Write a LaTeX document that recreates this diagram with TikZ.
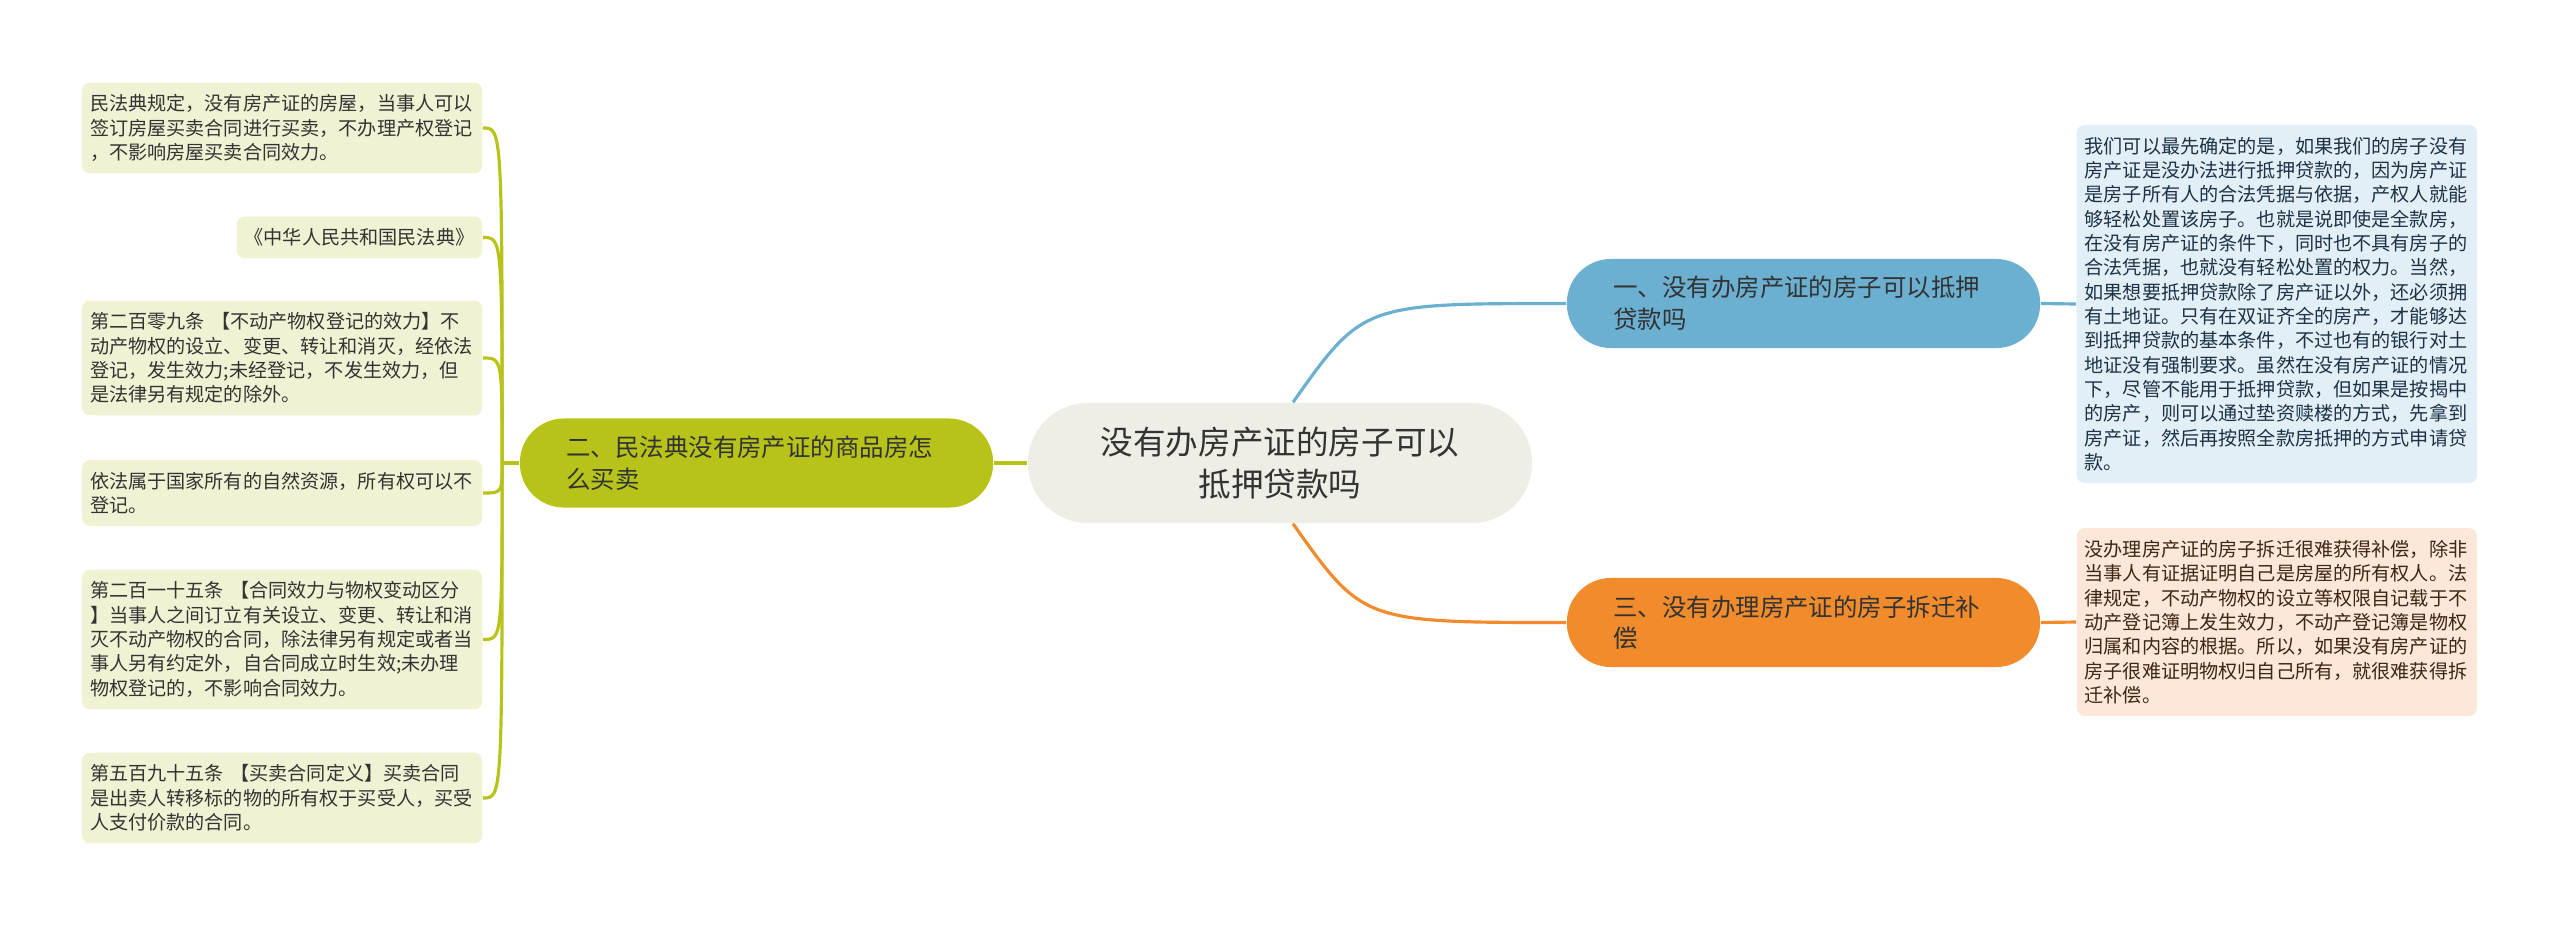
\documentclass[tikz,border=0pt]{standalone}
\usepackage{fontspec}
\setmainfont{Noto Sans CJK SC}
\usetikzlibrary{positioning}
\definecolor{topicgray}{HTML}{EEEEE7}
\definecolor{inkgray}{HTML}{333333}
\definecolor{olive}{HTML}{B7C318}
\definecolor{skyblue}{HTML}{6BAFD1}
\definecolor{tangerine}{HTML}{F28B2C}
\definecolor{olivepale}{HTML}{F1F2D3}
\definecolor{bluepale}{HTML}{E2EFF6}
\definecolor{orangepale}{HTML}{FDE7D9}
\definecolor{navyink}{HTML}{1E3246}
\definecolor{brownink}{HTML}{3F2612}

\begin{document}
\begin{tikzpicture}[x=0.01cm, y=-0.01cm,
    centre/.style={fill=topicgray, text=inkgray, rounded corners=0.6cm, minimum width=5.04cm, minimum height=1.2cm,
        align=center, font=\fontsize{9.27pt}{11.8pt}\selectfont},
    branchbox/.style={rounded corners=0.44cm, text=inkgray, text width=3.8cm, align=left, inner xsep=0.465cm,
        minimum height=0.89cm, font=\fontsize{6.95pt}{9pt}\selectfont},
    leafbox/.style={rounded corners=0.08cm, align=left, inner xsep=0.08cm, inner ysep=0.12cm,
        font=\fontsize{5.44pt}{6.92pt}\selectfont},
    leafwide/.style={leafbox, text width=3.84cm},
    gline/.style={olive, line width=0.9pt},
    bline/.style={skyblue, line width=0.9pt},
    oline/.style={tangerine, line width=0.9pt}]
    \useasboundingbox (0,0) rectangle (2560,927);

    \node[centre] (topic) at (1280,463) {没有办房产证的房子可以\\抵押贷款吗};

    \node[branchbox, fill=olive] (sale) at (756.5,463) {二、民法典没有房产证的商品房怎\\么买卖};
    \node[branchbox, fill=skyblue] (loan) at (1803.5,303.5) {一、没有办房产证的房子可以抵押\\贷款吗};
    \node[branchbox, fill=tangerine] (demo) at (1803.5,622.5) {三、没有办理房产证的房子拆迁补\\偿};

    \node[leafwide, fill=olivepale, text=inkgray, anchor=east] (civil) at (483,128)
        {民法典规定，没有房产证的房屋，当事人可以\\签订房屋买卖合同进行买卖，不办理产权登记\\，不影响房屋买卖合同效力。};
    \node[leafbox, fill=olivepale, text=inkgray, anchor=east] (code) at (483,237.5)
        {《中华人民共和国民法典》};
    \node[leafwide, fill=olivepale, text=inkgray, anchor=east] (art209) at (483,358)
        {第二百零九条 【不动产物权登记的效力】不\\动产物权的设立、变更、转让和消灭，经依法\\登记，发生效力;未经登记，不发生效力，但\\是法律另有规定的除外。};
    \node[leafwide, fill=olivepale, text=inkgray, anchor=east] (state) at (483,493)
        {依法属于国家所有的自然资源，所有权可以不\\登记。};
    \node[leafwide, fill=olivepale, text=inkgray, anchor=east] (art215) at (483,639.5)
        {第二百一十五条 【合同效力与物权变动区分\\】当事人之间订立有关设立、变更、转让和消\\灭不动产物权的合同，除法律另有规定或者当\\事人另有约定外，自合同成立时生效;未办理\\物权登记的，不影响合同效力。};
    \node[leafwide, fill=olivepale, text=inkgray, anchor=east] (art595) at (483,798)
        {第五百九十五条 【买卖合同定义】买卖合同\\是出卖人转移标的物的所有权于买受人，买受\\人支付价款的合同。};

    \node[leafwide, fill=bluepale, text=navyink, anchor=west] (loannote) at (2076,304)
        {我们可以最先确定的是，如果我们的房子没有\\房产证是没办法进行抵押贷款的，因为房产证\\是房子所有人的合法凭据与依据，产权人就能\\够轻松处置该房子。也就是说即使是全款房，\\在没有房产证的条件下，同时也不具有房子的\\合法凭据，也就没有轻松处置的权力。当然，\\如果想要抵押贷款除了房产证以外，还必须拥\\有土地证。只有在双证齐全的房产，才能够达\\到抵押贷款的基本条件，不过也有的银行对土\\地证没有强制要求。虽然在没有房产证的情况\\下，尽管不能用于抵押贷款，但如果是按揭中\\的房产，则可以通过垫资赎楼的方式，先拿到\\房产证，然后再按照全款房抵押的方式申请贷\\款。};
    \node[leafwide, fill=orangepale, text=brownink, anchor=west] (demonote) at (2076,622)
        {没办理房产证的房子拆迁很难获得补偿，除非\\当事人有证据证明自己是房屋的所有权人。法\\律规定，不动产物权的设立等权限自记载于不\\动产登记簿上发生效力，不动产登记簿是物权\\归属和内容的根据。所以，如果没有房产证的\\房子很难证明物权归自己所有，就很难获得拆\\迁补偿。};

    \coordinate (cu) at ([xshift=0.13cm]topic.north);
    \coordinate (cd) at ([xshift=0.13cm]topic.south);
    \coordinate (gs) at ([xshift=-0.17cm]sale.west);
    \path (cu |- loan.west) ++(70,0) coordinate (bk);
    \path (cd |- demo.west) ++(70,0) coordinate (ok);

    \draw[gline] (topic.west) -- (sale.east);
    \draw[gline] (sale.west) -- (gs);
    \foreach \n in {civil,code,art209,state,art215,art595}
        \draw[gline] (gs) .. controls (gs |- \n.east) .. (\n.east);

    \draw[bline] (cu) .. controls (bk) .. (loan.west);
    \draw[bline] (loan.east) -- (loannote.west);
    \draw[oline] (cd) .. controls (ok) .. (demo.west);
    \draw[oline] (demo.east) -- (demonote.west);
\end{tikzpicture}
\end{document}
